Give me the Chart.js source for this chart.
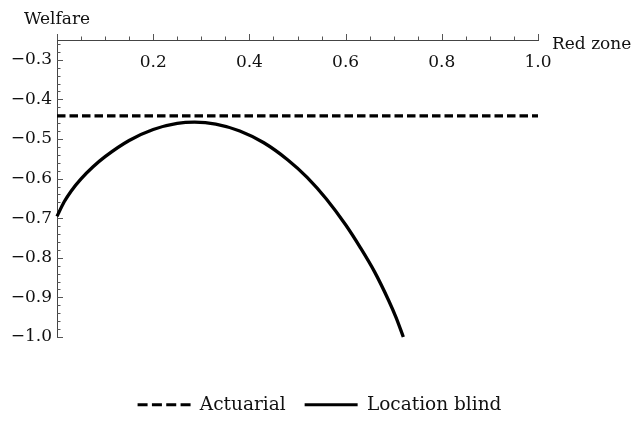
<!DOCTYPE html>
<html>
<head>
<meta charset="utf-8">
<script src="https://cdn.jsdelivr.net/npm/chart.js@4.4.1/dist/chart.umd.min.js"></script>
<style>
html,body{margin:0;padding:0;background:#fff;}
#wrap{width:639px;height:422px;}
</style>
</head>
<body>
<div id="wrap"><canvas id="c" width="639" height="422"></canvas></div>
<script>
// ---- data ----
const seriesNames = ['Actuarial', 'Location blind'];
const xAxisLabel = 'Red zone';
const yAxisLabel = 'Welfare';

const actuarialX = [0, 1];
const actuarialY = [-0.4415, -0.4415];

const blindX = [0, 0.015, 0.03, 0.05, 0.075, 0.10, 0.15, 0.20, 0.25, 0.286, 0.33, 0.38,
                0.43, 0.48, 0.52, 0.56, 0.60, 0.63, 0.66, 0.69, 0.705, 0.72];
const blindY = [-0.6954, -0.6586, -0.6305, -0.6007, -0.5702, -0.5446, -0.5038, -0.4760,
                -0.4607, -0.4575, -0.4623, -0.4796, -0.5094, -0.5528, -0.5967, -0.6514,
                -0.7165, -0.7729, -0.8349, -0.9090, -0.9510, -1.0];

const xTickValues = [0.2, 0.4, 0.6, 0.8, 1.0];
const yTickValues = [-1.0, -0.9, -0.8, -0.7, -0.6, -0.5, -0.4, -0.3];
const xRange = [0, 1];
const yRange = [-1.0, -0.25];

// ---- chart ----
const FONT = '"DejaVu Serif", "Liberation Serif", serif';
Chart.defaults.font.family = FONT;

const toPoints = (xs, ys) => xs.map((x, i) => ({x: x, y: ys[i]}));

const mmaTicks = {
  id: 'mmaTicks',
  beforeDatasetsDraw(chart) {
    const {ctx, chartArea: a, scales: {x, y}} = chart;
    ctx.save();
    ctx.strokeStyle = '#555';
    ctx.lineWidth = 1;
    ctx.beginPath();
    for (let i = 0; i <= 20; i++) {
      const v = xRange[0] + i * 0.05;
      const px = Math.round(x.getPixelForValue(v)) + 0.5;
      const len = (i % 4 === 0) ? 6 : 3.5;
      ctx.moveTo(px, a.top);
      ctx.lineTo(px, a.top - len);
    }
    for (let i = 0; i <= 40; i++) {
      const v = yRange[0] + i * 0.02;
      if (v > yRange[1] + 1e-9) break;
      const py = Math.round(y.getPixelForValue(v)) + 0.5;
      const len = (i % 5 === 0) ? 6 : 3.5;
      ctx.moveTo(a.left, py);
      ctx.lineTo(a.left + len, py);
    }
    ctx.stroke();
    ctx.restore();
  },
  afterDraw(chart) {
    const {ctx, chartArea: a} = chart;
    ctx.save();
    ctx.font = '17px ' + FONT;
    ctx.fillStyle = '#111';
    ctx.textBaseline = 'alphabetic';
    ctx.textAlign = 'center';
    ctx.fillText(yAxisLabel, a.left, a.top - 16);
    ctx.textAlign = 'left';
    ctx.fillText(xAxisLabel, a.right + 14, a.top + 9);
    ctx.restore();
  }
};

const spacer = (axis, position, size) => ({
  type: 'linear',
  axis: axis,
  position: position,
  display: true,
  grid: {display: false, drawTicks: false},
  border: {display: false},
  ticks: {display: false},
  afterFit(s) { if (axis === 'x') { s.height = size; } else { s.width = size; } }
});

new Chart(document.getElementById('c'), {
  type: 'line',
  data: {
    datasets: [
      {
        label: seriesNames[0],
        data: toPoints(actuarialX, actuarialY),
        borderColor: '#000',
        backgroundColor: '#000',
        borderWidth: 3.3,
        borderDash: [8.5, 4],
        borderCapStyle: 'butt',
        pointRadius: 0,
        clip: 6
      },
      {
        label: seriesNames[1],
        data: toPoints(blindX, blindY),
        borderColor: '#000',
        backgroundColor: '#000',
        borderWidth: 3.3,
        cubicInterpolationMode: 'monotone',
        pointRadius: 0,
        clip: 6
      }
    ]
  },
  options: {
    responsive: false,
    devicePixelRatio: 1,
    animation: false,
    layout: {padding: {left: 0, right: 0, top: 0, bottom: -2}},
    scales: {
      x: {
        type: 'linear',
        position: 'top',
        min: xRange[0], max: xRange[1],
        afterBuildTicks(s) { s.ticks = xTickValues.map(v => ({value: v})); },
        afterFit(s) { s.height = 40; },
        grid: {display: false, drawTicks: false},
        border: {display: true, color: '#444', width: 1},
        ticks: {
          mirror: true, padding: 12.8, color: '#111', font: {size: 17},
          maxRotation: 0, autoSkip: false,
          callback: v => Number(v).toFixed(1)
        }
      },
      y: {
        type: 'linear',
        position: 'left',
        min: yRange[0], max: yRange[1],
        afterBuildTicks(s) { s.ticks = yTickValues.map(v => ({value: v})); },
        afterFit(s) { s.width = 57; },
        grid: {display: false, drawTicks: false},
        border: {display: true, color: '#444', width: 1},
        ticks: {
          padding: 5, color: '#111', font: {size: 17}, autoSkip: false,
          callback: v => Number(v).toFixed(1).replace('-', '\u2212')
        }
      },
      gapBottom: spacer('x', 'bottom', 39.5),
      gapRight: spacer('y', 'right', 101)
    },
    plugins: {
      tooltip: {enabled: false},
      legend: {
        position: 'bottom',
        labels: {
          usePointStyle: true,
          pointStyle: 'line',
          pointStyleWidth: 53,
          boxWidth: 53,
          padding: 19,
          color: '#111',
          font: {size: 18.5},
          generateLabels(chart) {
            const items = Chart.defaults.plugins.legend.labels.generateLabels(chart);
            items.forEach(it => {
              it.strokeStyle = '#000';
              it.lineWidth = 3;
              it.lineCap = 'butt';
              it.lineDash = it.datasetIndex === 0 ? [10, 4.33] : [];
            });
            return items;
          }
        }
      }
    }
  },
  plugins: [mmaTicks]
});
</script>
</body>
</html>
